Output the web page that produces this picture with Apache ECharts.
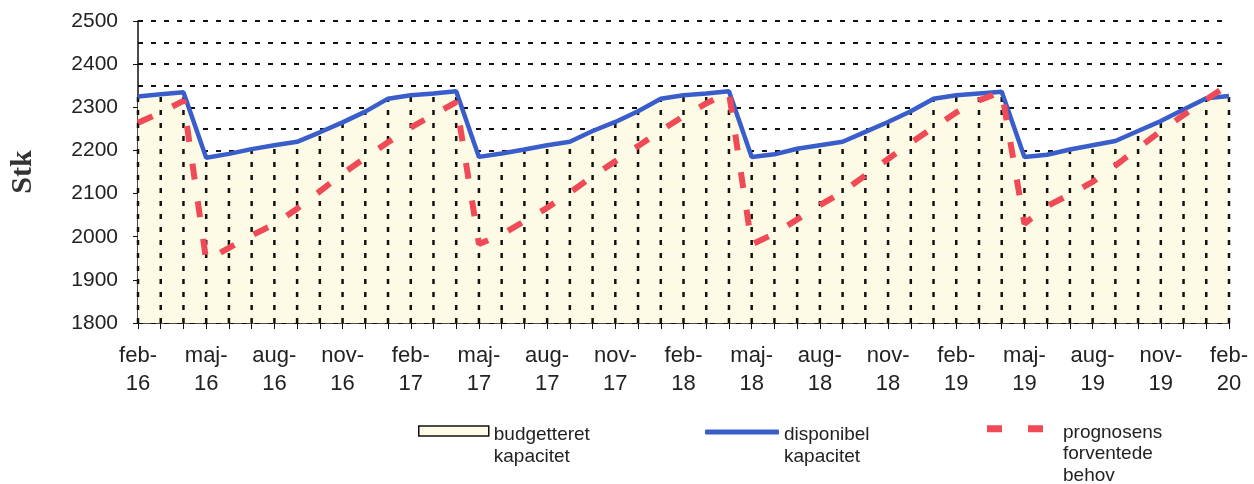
<!DOCTYPE html>
<html>
<head>
<meta charset="utf-8">
<script src="https://cdn.jsdelivr.net/npm/echarts@6/dist/echarts.min.js"></script>
<style>
html,body{margin:0;padding:0;background:#fff;}
#chart{width:1254px;height:484px;}
</style>
</head>
<body>
<div id="chart"></div>
<script>
var categories = [
 'feb-16','mar-16','apr-16','maj-16','jun-16','jul-16','aug-16','sep-16','okt-16','nov-16','dec-16','jan-17',
 'feb-17','mar-17','apr-17','maj-17','jun-17','jul-17','aug-17','sep-17','okt-17','nov-17','dec-17','jan-18',
 'feb-18','mar-18','apr-18','maj-18','jun-18','jul-18','aug-18','sep-18','okt-18','nov-18','dec-18','jan-19',
 'feb-19','mar-19','apr-19','maj-19','jun-19','jul-19','aug-19','sep-19','okt-19','nov-19','dec-19','jan-20',
 'feb-20'
];
var budgetteret = [
 2325,2330,2335,2183,2192,2203,2212,2220,2242,2265,2290,2320,
 2328,2332,2337,2185,2193,2202,2212,2220,2245,2266,2291,2320,
 2328,2332,2337,2185,2191,2204,2212,2220,2243,2266,2291,2320,
 2328,2332,2336,2185,2190,2202,2212,2222,2245,2268,2295,2321,
 2326
];
var disponibel = [
 2325,2330,2335,2183,2192,2203,2212,2220,2242,2265,2290,2320,
 2328,2332,2337,2185,2193,2202,2212,2220,2245,2266,2291,2320,
 2328,2332,2337,2185,2191,2204,2212,2220,2243,2266,2291,2320,
 2328,2332,2336,2185,2190,2202,2212,2222,2245,2268,2295,2321,
 2326
];
var prognose = [
 2264,2288,2315,1945,1974,2003,2029,2065,2105,2146,2183,2219,
 2253,2283,2312,1983,2005,2036,2067,2102,2140,2175,2210,2246,
 2279,2309,2335,1982,2007,2040,2073,2104,2142,2180,2218,2253,
 2288,2316,2336,2030,2071,2098,2127,2165,2205,2245,2282,2318,
 2353
];
var yMin = 1800, yMax = 2500, yStep = 100;
var names = ['budgetteret\nkapacitet', 'disponibel\nkapacitet', 'prognosens\nforventede\nbehov'];

var chart = echarts.init(document.getElementById('chart'), null, {renderer: 'canvas'});
var LH = 21.5;
function legendFmt(name) {
  var lines = name.split('\n');
  return '{s| }\n' + lines.map(function (l) { return '{t|' + l + '}'; }).join('\n');
}
function legendTextStyle(spacer, padLeft) {
  return {
    rich: {
      s: {fontSize: 1, lineHeight: spacer, padding: [0, 0, 0, padLeft]},
      t: {fontFamily: 'Liberation Sans, Arial, sans-serif', fontSize: 19, color: '#222', lineHeight: LH, padding: [0, 0, 0, padLeft]}
    }
  };
}
var option = {
  backgroundColor: '#ffffff',
  animation: false,
  grid: {left: 138, right: 25, top: 21, bottom: 161, containLabel: false},
  legend: [
    {data: [{name: names[0], icon: 'rect', itemStyle: {color: '#fdfbe6', borderColor: '#111', borderWidth: 1.5}}],
     left: 418, top: 409, padding: 0, itemWidth: 70, itemHeight: 10, selectedMode: false,
     formatter: legendFmt, textStyle: legendTextStyle(LH + 8, 0)},
    {data: [{name: names[1], icon: 'roundRect', itemStyle: {color: '#3a5dcc'}}],
     left: 705, top: 410, padding: 0, itemWidth: 74, itemHeight: 5, selectedMode: false,
     formatter: legendFmt, textStyle: legendTextStyle(LH + 6, 0)},
    {data: [{name: names[2], icon: 'path://M0,0H15V7H0Z M41,0H56V7H41Z', itemStyle: {color: '#ef4a55'}}],
     left: 987, top: 396, padding: 0, itemWidth: 56, itemHeight: 7, selectedMode: false,
     formatter: legendFmt, textStyle: legendTextStyle(2 * LH + 8, 15)}
  ],
  xAxis: {
    type: 'category', data: categories, boundaryGap: false,
    axisLine: {show: true, lineStyle: {color: '#111', width: 1.5}},
    axisTick: {show: true, interval: 0, length: 6, lineStyle: {color: '#111', width: 1}},
    axisLabel: {interval: 2, margin: 19, fontFamily: 'Liberation Sans, Arial, sans-serif', fontSize: 22, lineHeight: 28, color: '#222',
      formatter: function (v) { return v.replace('-', '-\n'); }},
    splitLine: {show: false}
  },
  yAxis: {
    type: 'value', min: yMin, max: yMax, interval: yStep,
    name: 'Stk', nameLocation: 'middle', nameGap: 100,
    nameTextStyle: {fontFamily: 'Liberation Serif, Times New Roman, serif', fontWeight: 'bold', fontSize: 30, color: '#333'},
    axisLine: {show: true, lineStyle: {color: '#111', width: 1.5}},
    axisTick: {show: true, length: 5, lineStyle: {color: '#111'}},
    axisLabel: {margin: 20, fontFamily: 'Liberation Sans, Arial, sans-serif', fontSize: 21, color: '#222',
      formatter: function (v) { return String(v); }},
    splitLine: {show: true, lineStyle: {color: '#111', width: 2, type: [5, 8]}},
    minorTick: {show: false, splitNumber: 2},
    minorSplitLine: {show: true, lineStyle: {color: '#111', width: 2, type: [5, 8]}}
  },
  series: [
    {
      name: names[0], type: 'line', data: budgetteret, symbol: 'none', z: 2,
      lineStyle: {width: 1, color: '#111'},
      itemStyle: {color: '#fdfbe6'},
      areaStyle: {color: '#fdfbe6', opacity: 1, origin: 'start'}
    },
    {
      type: 'custom', name: 'drop', z: 3, silent: true,
      data: budgetteret.map(function (v, i) { return [i, v]; }),
      renderItem: function (params, api) {
        var top = api.coord([api.value(0), api.value(1)]);
        var bot = api.coord([api.value(0), yMin]);
        return {
          type: 'line',
          shape: {x1: bot[0], y1: bot[1], x2: top[0], y2: top[1]},
          style: {stroke: '#111', lineWidth: 2.5, lineDash: [5, 8]}
        };
      }
    },
    {
      name: names[1], type: 'line', data: disponibel, symbol: 'none', z: 4,
      lineStyle: {width: 4.5, color: '#3a5dcc'}, itemStyle: {color: '#3a5dcc'}
    },
    {
      name: names[2], type: 'line', data: prognose, symbol: 'none', z: 5,
      lineStyle: {width: 6, color: '#ef4a55', type: [16, 22]}, itemStyle: {color: '#ef4a55'}
    }
  ]
};
chart.setOption(option);
</script>
</body>
</html>
